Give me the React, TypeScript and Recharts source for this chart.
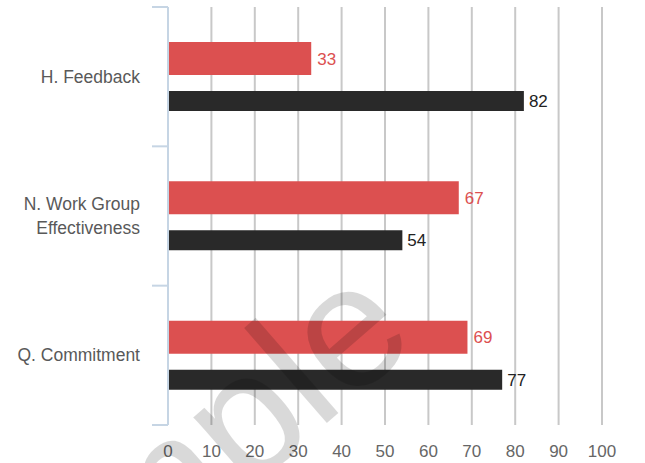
import { BarChart, Bar, XAxis, YAxis, CartesianGrid, LabelList } from 'recharts';

// values
const categories = ['H. Feedback', 'N. Work Group Effectiveness', 'Q. Commitment'];
const redValues = [33, 67, 69];
const darkValues = [82, 54, 77];
const xTicks = [0, 10, 20, 30, 40, 50, 60, 70, 80, 90, 100];

const RED = '#dc5050';
const DARK = '#292929';
const AXIS_BLUE = '#c6d5e4';
const GRID = '#c8c8c8';
const FONT = '"Liberation Sans", Arial, sans-serif';

const W = 645;
const H = 463;
const MARGIN = { top: 7, right: 43, bottom: 0, left: 0 };
const Y_AXIS_W = 168;
const X_AXIS_H = 38;
const BAND = (H - MARGIN.top - MARGIN.bottom - X_AXIS_H) / categories.length;

const data = categories.map((name, i) => ({
  name,
  red: redValues[i],
  dark: darkValues[i],
}));

// simple word wrap for the long category names
function wrap(label: string, max = 14): string[] {
  const lines: string[] = [];
  let cur = '';
  label.split(' ').forEach((w) => {
    if (cur && (cur + ' ' + w).length > max) {
      lines.push(cur);
      cur = w;
    } else {
      cur = cur ? cur + ' ' + w : w;
    }
  });
  if (cur) lines.push(cur);
  return lines;
}

function CategoryTick(props: any) {
  const { x, y, payload } = props;
  const lines = wrap(payload.value);
  const lineH = 24;
  const startY = y - ((lines.length - 1) * lineH) / 2;
  const isLast = payload.value === categories[categories.length - 1];
  return (
    <g>
      {/* tick marks sit on the band edges, not the centres */}
      <line x1={x - 16} x2={x} y1={y - BAND / 2} y2={y - BAND / 2} stroke={AXIS_BLUE} strokeWidth={2} />
      {isLast && (
        <line x1={x - 16} x2={x} y1={y + BAND / 2} y2={y + BAND / 2} stroke={AXIS_BLUE} strokeWidth={2} />
      )}
      <text
        x={x - 28}
        y={startY}
        textAnchor="end"
        dominantBaseline="central"
        fill="#595959"
        fontSize={17.5}
        fontFamily={FONT}
      >
        {lines.map((l, i) => (
          <tspan key={i} x={x - 28} dy={i === 0 ? 0 : lineH}>
            {l}
          </tspan>
        ))}
      </text>
    </g>
  );
}

export default function App() {
  return (
    <div style={{ position: 'absolute', left: 0, top: 0, width: W, height: H, background: '#fff' }}>
      <BarChart width={W} height={H} data={data} layout="vertical" margin={MARGIN} barGap={16}>
        <CartesianGrid horizontal={false} stroke={GRID} strokeWidth={2} />
        <XAxis
          type="number"
          domain={[0, 100]}
          ticks={xTicks}
          height={X_AXIS_H}
          axisLine={false}
          tickLine={false}
          tickSize={0}
          tickMargin={20}
          tick={{ fill: '#666', fontSize: 17, fontFamily: FONT }}
        />
        <YAxis
          type="category"
          dataKey="name"
          width={Y_AXIS_W}
          interval={0}
          tickSize={0}
          tickMargin={0}
          tickLine={false}
          axisLine={{ stroke: AXIS_BLUE, strokeWidth: 2 }}
          tick={<CategoryTick />}
        />
        <Bar dataKey="red" fill={RED} barSize={33} isAnimationActive={false}>
          <LabelList dataKey="red" position="right" offset={6} fill={RED} fontSize={17} fontFamily={FONT} />
        </Bar>
        <Bar dataKey="dark" fill={DARK} barSize={20} isAnimationActive={false}>
          <LabelList dataKey="dark" position="right" offset={5} fill="#222" fontSize={17} fontFamily={FONT} />
        </Bar>
      </BarChart>
      {/* "Sample" watermark over the plot */}
      <svg width={W} height={H} style={{ position: 'absolute', left: 0, top: 0, pointerEvents: 'none' }}>
        <text
          x={-25}
          y={729}
          transform="rotate(-41 -25 729)"
          fontSize={174}
          fontFamily={FONT}
          fill="#000"
          fillOpacity={0.15}
        >
          Sample
        </text>
      </svg>
    </div>
  );
}
